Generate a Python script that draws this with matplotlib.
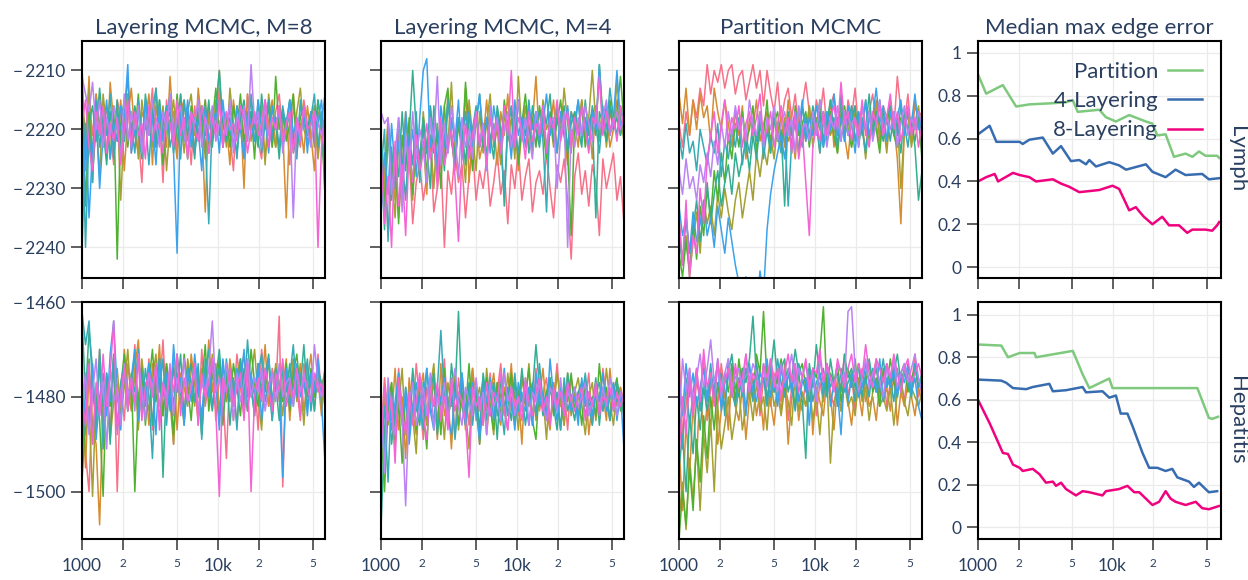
import numpy as np
import matplotlib
matplotlib.use("Agg")
import matplotlib.pyplot as plt

plt.rcParams['font.family'] = ['Lato', 'DejaVu Sans']

# ---------------- data ----------------
ITER_START, ITER_END = 1000, 61000
LYMPH_TOP = -2205   # log-likelihood = LYMPH_TOP - offset
HEP_TOP = -1460     # log-likelihood = HEP_TOP - offset

lymph_m8 = [
 [4,22,10,16,9,14,18,11,15,21,10,13,17,9,19,12,16,24,11,14,8,18,13,24,10,15,12,19,9,16,13,21,11,17,14,10,19,12,15,8,18,13,16,22,11,14,19,9,15,12,17,20,10,14,18,12,9,16,13,21,11,15,18,10,14,17,12,19,13,15],
 [12,18,6,24,9,15,11,20,7,14,17,10,22,13,8,16,19,12,14,9,21,11,16,13,18,6,15,20,12,10,17,13,19,8,14,29,11,16,12,5,18,14,21,10,15,12,25,9,17,13,16,11,20,14,10,18,12,15,30,13,9,17,14,19,11,16,22,12,14,9],
 [10,16,8,19,13,23,9,15,12,18,11,27,14,9,17,12,20,10,15,13,18,8,16,11,22,14,10,17,13,19,12,9,16,14,11,20,13,17,10,15,12,18,8,14,16,11,19,13,10,17,14,12,21,9,15,18,11,13,16,10,19,12,8,15,17,13,11,20,14,26],
 [7,28,12,22,15,9,17,13,20,11,37,14,10,18,12,16,9,19,13,15,11,17,10,21,14,12,18,9,16,13,20,11,15,12,17,10,19,14,8,16,12,13,18,11,15,9,17,14,12,20,10,16,13,11,18,6,15,12,17,14,9,19,13,11,16,12,18,10,15,23],
 [9,20,14,11,17,8,15,21,12,16,10,19,13,6,17,11,15,20,9,14,12,18,10,16,13,11,19,14,9,17,12,15,20,11,13,16,10,18,12,5,14,17,11,15,19,13,10,16,12,14,18,9,15,11,17,13,20,12,14,10,16,19,11,13,15,12,17,10,14,16],
 [11,35,15,24,10,18,13,16,9,20,12,15,17,11,14,19,10,16,13,21,12,8,17,14,11,18,15,13,20,10,16,12,19,14,11,17,31,13,15,10,18,12,16,14,20,11,13,17,9,15,12,19,14,10,16,13,18,11,15,12,17,20,10,14,16,13,9,18,12,26],
 [36,14,30,18,12,25,16,10,20,14,17,11,13,4,19,15,12,18,10,16,13,21,11,17,14,9,19,36,12,16,10,18,13,15,22,11,17,14,12,19,10,16,13,18,11,15,20,12,14,17,10,16,13,19,11,15,12,18,14,10,16,13,17,11,19,12,15,14,10,18],
 [6,9,12,7,15,10,18,13,16,11,14,20,9,17,12,15,11,19,13,16,10,14,18,12,15,9,17,13,11,16,19,12,14,10,18,13,15,11,17,14,12,16,10,19,13,15,11,17,4,14,12,18,10,16,13,15,11,19,14,12,30,13,17,11,15,18,12,14,16,13],
 [14,10,18,22,12,16,11,19,14,17,13,21,15,10,18,12,16,14,20,11,17,13,15,19,12,14,18,10,16,13,20,12,15,17,11,14,19,13,16,10,18,12,15,14,17,11,13,19,15,12,16,14,10,18,13,15,11,17,14,12,19,13,16,11,15,14,12,35,18,13],
]

lymph_m4 = [
 [28,20,33,24,18,30,22,26,19,31,24,21,27,23,17,29,25,20,35,22,26,19,24,21,30,23,18,27,22,25,20,28,24,19,26,22,31,21,25,18,27,23,20,29,24,22,26,19,25,30,21,24,20,27,37,23,19,26,22,28,21,24,33,20,25,22,19,27,23,31],
 [16,24,13,20,27,15,22,12,19,25,14,21,17,26,11,18,23,14,20,9,16,22,13,19,8,24,15,12,20,17,10,18,14,21,12,16,9,19,13,22,15,11,18,14,6,17,12,20,15,10,19,13,16,21,12,14,18,10,15,13,20,11,17,14,12,18,15,10,16,13],
 [18,26,14,22,30,17,24,13,20,27,15,23,12,19,16,25,14,21,11,18,7,20,13,17,24,10,16,22,12,19,14,9,18,15,21,12,17,13,20,6,16,11,14,19,12,17,10,15,13,18,11,16,8,14,19,12,15,10,17,13,5,14,16,11,18,12,15,7,13,17],
 [20,28,15,24,18,31,16,22,13,26,17,20,14,23,12,19,16,25,11,8,17,21,14,19,7,15,22,12,18,14,20,11,16,13,19,10,15,17,12,21,14,9,16,13,18,11,15,20,12,17,14,10,16,19,33,13,15,11,18,14,12,16,4,13,17,10,15,12,6,14],
 [17,32,14,27,19,23,12,21,16,5,15,20,13,18,25,11,17,14,22,10,16,19,13,15,21,12,17,14,9,18,13,16,20,11,15,28,14,12,17,10,16,13,19,11,15,18,12,14,9,17,13,16,11,19,14,12,15,18,10,16,13,30,12,14,17,11,15,13,16,12],
 [22,15,34,18,25,13,20,27,16,21,12,24,15,19,11,17,23,14,18,10,16,21,13,17,12,19,15,11,18,14,20,13,16,12,17,26,14,11,15,19,13,16,10,18,14,12,17,29,13,15,11,16,14,18,12,15,10,17,13,16,11,14,19,12,15,8,13,16,11,14],
 [30,19,26,14,22,17,28,12,20,15,23,13,5,3,18,14,21,11,16,19,13,17,10,20,15,12,18,14,9,16,13,19,11,15,17,12,14,20,10,16,13,18,11,15,12,17,14,9,16,13,19,12,15,11,17,14,10,16,13,18,12,15,4,14,11,16,13,5,15,12],
 [12,14,13,26,19,13,29,16,22,12,20,15,18,24,13,17,6,21,14,19,11,16,23,13,18,15,20,12,17,14,22,11,16,13,19,15,12,18,14,10,17,13,16,20,12,15,11,18,14,13,25,16,12,35,15,18,13,16,11,14,17,12,15,13,10,16,14,12,15,13],
 [19,31,23,35,17,28,21,33,18,24,16,22,19,14,20,17,25,13,21,18,15,23,34,19,14,20,16,12,18,15,21,13,17,14,19,11,16,5,18,13,15,20,12,17,14,16,11,19,13,15,10,17,14,12,18,13,16,11,15,19,13,14,6,16,12,15,13,17,11,15],
]

lymph_part = [
 [14,18,12,16,10,13,8,11,4,9,5,7,4,8,5,4,9,6,5,10,7,4,8,5,11,5,9,12,7,14,10,8,13,9,15,11,7,12,16,10,13,8,15,11,9,14,12,17,10,13,8,15,11,16,12,9,14,18,11,13,10,15,6,12,14,9,16,11,13,12],
 [9,14,8,16,10,15,9,13,11,17,8,12,15,10,14,18,12,16,11,20,13,15,10,17,14,12,19,11,16,13,18,10,15,20,12,14,17,11,16,13,19,12,15,10,18,14,12,16,20,13,11,17,14,19,12,15,10,16,13,18,11,14,20,31,15,12,17,10,14,13],
 [30,38,33,40,34,29,36,27,31,28,33,26,30,25,29,32,27,24,30,26,22,27,19,23,18,21,16,20,14,18,13,17,15,12,19,14,16,11,18,13,15,17,12,16,14,19,11,15,13,18,12,16,14,20,13,15,11,17,14,19,12,16,13,25,15,12,18,14,11,16],
 [36,40,34,39,31,37,28,33,25,30,22,27,19,24,16,20,14,18,12,17,15,11,19,13,16,10,18,14,12,17,15,13,19,11,16,14,12,18,13,15,10,17,14,12,16,19,13,11,15,18,14,12,16,10,17,13,15,19,12,14,11,16,18,13,15,12,14,17,13,20],
 [33,38,30,36,32,27,34,29,24,31,26,22,28,24,21,26,19,23,20,17,22,16,20,14,18,15,19,13,17,15,28,12,16,14,19,11,15,17,13,16,12,18,14,10,15,13,17,12,16,14,11,18,13,15,9,16,12,14,17,13,11,16,14,19,12,15,13,18,27,22],
 [16,20,14,19,17,22,15,18,21,16,19,14,23,17,20,15,18,13,21,16,19,14,17,12,20,15,18,13,16,19,14,28,17,12,15,18,13,16,11,14,19,12,17,15,13,18,9,16,14,11,17,13,15,19,12,16,14,10,15,13,17,12,16,11,14,18,13,15,12,16],
 [28,33,30,36,29,34,31,27,33,30,35,28,32,36,30,34,38,41,43,40,44,42,45,39,43,32,26,22,19,16,20,14,18,12,15,10,17,13,16,11,14,18,12,15,9,16,13,17,11,14,19,12,15,10,16,13,8,14,11,17,12,15,13,10,16,12,14,9,15,13],
 [22,26,20,25,23,27,21,24,19,23,17,21,14,18,12,16,11,15,13,17,10,14,16,12,18,13,15,11,17,14,12,16,13,19,11,15,14,17,12,16,10,14,18,13,15,11,17,12,16,14,13,18,11,15,12,17,14,10,16,13,15,12,18,14,11,16,13,15,12,14],
 [30,38,27,40,33,36,25,31,20,16,12,19,14,10,17,13,15,11,18,14,12,16,13,9,17,15,12,18,14,11,16,13,19,12,20,15,24,33,18,14,17,12,16,13,11,15,7,14,12,17,13,16,10,15,18,12,14,11,16,13,9,15,12,17,14,11,16,13,18,14],
]

hep_m8 = [
 [12,32,40,18,24,10,28,15,22,11,40,17,25,13,20,9,26,16,21,12,27,14,19,8,23,15,30,11,18,24,13,20,16,26,10,22,17,12,25,15,19,33,14,21,11,18,24,13,20,16,27,10,17,22,14,19,3,39,15,21,12,18,25,13,20,16,23,11,19,14],
 [20,35,14,26,30,47,22,16,28,12,19,25,10,18,23,14,8,21,17,26,13,19,9,24,16,20,12,27,15,18,22,11,17,25,14,20,8,19,13,23,16,21,12,18,26,15,11,20,17,24,13,19,9,22,16,14,21,18,12,25,15,19,13,23,17,11,20,16,24,14],
 [16,28,22,41,19,13,25,17,29,21,14,24,18,10,22,15,27,12,19,23,16,11,25,18,13,21,30,15,19,26,12,17,22,14,28,16,20,11,18,24,13,21,17,25,15,12,19,23,16,10,20,27,14,18,22,13,17,24,15,19,12,21,16,26,14,18,20,13,22,17],
 [38,24,12,30,19,25,41,16,22,13,27,18,11,23,15,40,20,14,26,17,10,21,16,24,13,19,28,15,22,11,18,25,14,20,17,9,23,15,19,12,26,16,21,13,18,24,14,20,10,17,22,15,19,12,25,16,18,21,13,23,15,11,19,17,22,14,20,16,18,15],
 [3,20,6,14,27,10,22,16,30,12,19,25,14,21,17,11,24,15,20,13,26,18,12,37,16,22,14,19,11,25,17,13,21,15,28,12,18,23,16,10,20,14,26,17,19,12,22,15,18,24,13,20,16,11,21,17,25,14,19,13,22,16,18,9,20,15,23,14,17,19],
 [2,9,4,18,25,12,31,15,21,11,27,17,13,23,16,19,10,24,14,20,33,15,18,12,26,16,22,11,19,25,14,17,21,13,29,15,10,22,17,14,24,12,19,16,27,13,20,8,18,23,15,11,21,17,25,14,19,13,22,16,9,20,15,18,12,23,17,14,20,16],
 [35,18,26,13,29,20,15,24,11,4,19,27,14,21,16,10,25,18,22,13,17,28,12,20,15,23,9,19,16,26,14,21,11,18,24,15,20,13,17,27,12,19,16,22,14,18,10,23,15,20,13,25,17,12,21,16,19,37,14,22,18,13,20,16,24,15,19,12,21,34],
 [22,15,28,19,12,24,17,31,14,21,18,26,13,20,16,23,11,19,25,15,18,14,22,17,20,13,24,16,19,12,21,18,15,23,17,20,14,4,19,16,22,13,18,25,15,21,17,12,20,16,19,14,23,18,15,21,13,20,17,16,22,14,19,15,18,21,9,17,20,16],
 [20,26,13,30,17,24,11,22,15,4,28,19,14,23,16,21,12,25,18,15,20,13,27,17,22,14,19,11,24,16,21,18,13,26,15,20,17,12,23,41,16,19,14,22,18,15,25,13,40,20,16,21,14,18,23,15,19,12,22,17,20,14,24,16,18,21,15,19,17,22],
]

hep_m4 = [
 [28,16,24,19,31,14,22,27,17,25,13,21,29,18,23,15,26,20,12,24,18,28,16,22,19,26,14,21,30,17,23,15,25,19,13,22,27,17,20,24,15,21,18,26,14,23,19,16,25,21,13,22,18,27,16,20,24,17,21,15,26,19,23,14,20,25,17,22,18,21],
 [22,30,18,25,14,27,20,33,16,23,28,19,15,26,21,17,29,13,24,20,31,18,22,16,27,19,14,25,21,17,28,20,15,23,26,18,21,13,24,19,30,16,22,18,25,20,14,23,27,17,21,19,26,15,22,18,24,20,16,28,21,17,23,19,25,14,22,20,18,24],
 [35,20,26,17,30,22,14,28,19,24,32,16,21,26,18,13,25,20,29,17,22,15,27,19,23,31,16,21,18,26,14,22,28,17,20,24,15,23,19,27,16,21,13,25,18,22,20,29,17,23,15,21,26,18,24,19,16,22,28,20,17,25,19,23,14,21,26,18,22,20],
 [26,40,22,17,29,21,34,18,25,15,27,20,23,31,16,22,19,28,14,24,21,17,26,19,23,13,25,18,30,20,16,22,27,17,24,19,21,15,26,18,23,20,14,25,29,17,22,19,16,24,20,27,18,21,15,23,19,26,17,22,20,24,13,21,18,25,19,16,23,20],
 [48,27,18,30,23,16,25,20,28,14,22,26,17,24,19,15,28,21,18,25,13,20,2,22,26,17,23,19,27,15,21,24,18,29,16,22,20,25,17,23,14,21,26,19,9,18,24,20,16,22,27,18,23,15,21,25,19,17,24,20,22,16,26,18,21,19,23,17,20,24],
 [30,22,38,19,26,17,24,21,28,16,23,19,27,14,22,25,18,6,20,24,17,29,21,15,23,19,26,18,22,16,25,20,17,24,21,28,18,22,15,23,19,26,20,17,24,13,21,25,18,22,19,27,16,23,20,18,24,21,15,22,26,19,17,23,20,25,18,21,19,22],
 [24,33,19,27,21,15,26,18,30,22,17,25,20,14,23,27,18,21,16,24,28,19,22,15,26,20,17,23,29,18,21,16,25,19,22,14,24,20,27,17,21,23,18,26,15,22,19,24,12,20,25,18,21,17,23,20,26,16,22,19,24,18,21,15,23,20,17,25,19,31],
 [20,36,16,23,28,19,25,43,21,17,26,22,18,24,15,27,20,23,17,25,19,14,22,26,18,21,24,16,23,19,28,17,22,20,25,15,21,18,24,20,23,16,26,19,21,17,22,25,18,20,23,16,24,19,21,18,22,20,17,24,21,19,23,18,22,16,20,24,19,21],
 [30,18,25,20,34,16,23,28,19,26,21,15,24,29,18,22,17,25,20,27,16,23,19,21,25,37,18,22,20,26,17,24,19,21,15,23,27,18,22,20,25,17,21,24,19,16,23,20,26,18,22,19,24,17,21,23,20,18,25,19,22,17,24,20,21,18,23,19,22,20],
]

hep_part = [
 [10,28,22,14,24,17,20,12,25,18,16,22,13,19,26,15,21,17,14,23,18,20,12,24,16,19,22,15,17,21,13,25,18,15,20,23,16,19,14,24,17,21,13,19,22,16,18,11,20,15,23,17,14,21,18,16,12,20,15,22,17,13,19,16,21,14,18,11,20,17],
 [30,44,25,37,21,33,18,28,22,26,17,30,23,19,27,15,22,25,18,29,20,16,24,19,27,14,21,26,18,23,16,30,20,17,25,19,22,14,28,18,21,24,16,20,27,17,23,15,21,26,18,19,24,16,22,20,25,17,21,18,23,15,26,19,22,17,20,24,18,21],
 [46,38,48,33,42,30,44,28,36,25,40,22,31,26,20,29,24,18,27,22,19,25,17,23,20,27,16,22,19,24,18,21,26,15,23,19,22,17,25,20,28,18,16,34,21,19,23,17,22,20,24,16,21,18,25,19,17,22,20,23,18,26,19,17,21,24,18,20,22,19],
 [50,40,47,35,44,29,38,24,33,20,27,17,22,15,19,13,21,12,18,14,16,20,11,15,2,17,13,19,16,12,20,14,17,22,15,13,18,21,14,16,11,1,19,15,17,13,21,16,14,18,12,20,15,17,13,19,16,22,14,18,12,17,20,15,13,19,16,14,18,15],
 [35,28,40,24,32,20,27,18,23,16,21,13,19,22,15,11,18,20,14,17,12,3,16,19,13,21,15,8,17,14,12,19,16,10,15,21,33,13,18,9,16,14,20,12,17,15,19,11,16,14,18,13,20,15,12,17,14,19,16,13,18,15,11,17,14,16,20,13,18,15],
 [22,31,16,26,19,14,23,17,20,13,21,18,15,24,12,19,22,16,20,14,17,21,13,18,16,22,14,19,12,17,20,15,18,23,13,16,19,14,21,17,15,20,13,18,16,22,14,19,17,15,21,13,18,16,20,14,19,17,12,18,16,21,14,19,15,17,20,13,18,16],
 [17,24,13,20,15,22,18,14,21,16,19,12,23,17,15,20,14,18,16,24,13,19,21,15,17,12,20,16,22,14,18,15,19,13,21,17,16,26,14,20,15,18,13,22,17,19,28,15,21,16,14,20,18,13,17,15,19,12,21,16,18,14,20,15,17,13,19,16,22,25],
 [25,12,19,14,21,16,11,18,14,8,17,13,20,15,12,18,16,14,19,11,17,13,15,20,14,18,12,16,19,13,17,15,11,18,14,16,13,19,15,21,12,17,14,16,18,13,15,17,2,1,14,19,16,12,18,15,13,17,20,14,16,12,18,15,13,17,14,11,16,19],
 [33,20,28,16,24,14,21,10,18,15,22,12,19,17,14,20,13,18,16,11,19,15,17,21,13,16,12,18,14,20,15,11,17,13,19,16,12,18,14,15,10,17,13,16,19,12,15,18,14,11,17,13,16,9,15,18,12,14,17,13,16,11,15,19,14,12,17,15,13,16],
]

# median max edge error
err_lymph = {
 'Partition': ([1000,1150,1530,1920,2410,3500,4510,5060,5510,7970,8930,10600,13300,17700,19800,21500,24800,28600,34900,39200,43900,49100,59900,62000],
               [0.90,0.81,0.85,0.75,0.76,0.765,0.77,0.78,0.725,0.735,0.70,0.68,0.71,0.68,0.67,0.615,0.62,0.515,0.53,0.515,0.54,0.52,0.52,0.51]),
 '4-Layering': ([1000,1220,1370,2040,2150,2410,3030,3600,4140,4910,5660,6350,6720,7530,9450,11200,12600,17700,19800,24800,29400,34900,46400,52000,61700],
                [0.62,0.66,0.585,0.585,0.575,0.595,0.605,0.53,0.565,0.495,0.50,0.48,0.50,0.47,0.49,0.475,0.455,0.48,0.445,0.42,0.455,0.43,0.435,0.41,0.415]),
 '8-Layering': ([1000,1150,1330,1410,1820,2040,2410,2700,3600,4140,4770,5660,7970,10000,11200,13300,14900,15800,17100,19800,23400,26300,31200,35900,39200,49100,55000,59900,62000],
                [0.40,0.42,0.435,0.40,0.44,0.43,0.42,0.40,0.41,0.39,0.375,0.35,0.36,0.38,0.365,0.265,0.28,0.26,0.235,0.20,0.235,0.195,0.195,0.16,0.175,0.175,0.17,0.195,0.21]),
}
err_hep = {
 'Partition': ([1000,1490,1670,2040,2630,2700,5060,5350,5990,6720,9450,10000,42700,52000,55000,60800],
               [0.86,0.855,0.80,0.82,0.82,0.80,0.83,0.795,0.72,0.655,0.70,0.655,0.655,0.515,0.51,0.52]),
 '4-Layering': ([1000,1490,1620,1820,2280,2550,3390,3600,4510,5990,6350,8420,9450,10600,11500,12900,14100,16700,18700,21500,24800,27800,30300,37000,40300,43900,49100,52000,59900],
                [0.695,0.69,0.68,0.655,0.65,0.66,0.675,0.64,0.645,0.66,0.635,0.64,0.61,0.62,0.535,0.535,0.475,0.35,0.28,0.28,0.265,0.275,0.235,0.215,0.19,0.21,0.18,0.165,0.17]),
 '8-Layering': ([1000,1220,1530,1670,1820,2040,2150,2550,2860,3200,3600,3800,4140,4510,5350,5990,6720,8420,8930,11200,12900,14500,15800,19800,22200,24800,27000,29400,34900,41500,46400,52000,61700],
                [0.60,0.49,0.35,0.345,0.295,0.28,0.265,0.275,0.25,0.21,0.215,0.195,0.21,0.18,0.15,0.17,0.165,0.15,0.17,0.18,0.195,0.165,0.165,0.105,0.12,0.17,0.135,0.12,0.105,0.12,0.09,0.085,0.10]),
}

col_titles = ["Layering MCMC, M=8", "Layering MCMC, M=4", "Partition MCMC", "Median max edge error"]
row_labels = ["Lymph", "Hepatitis"]
chain_colors = ['#f77189', '#d58c32', '#a4a031', '#50b131', '#34ae91', '#37abb5', '#3ba3ec', '#bb83f4', '#f564d4']
err_colors = {'Partition': '#7fc97f', '4-Layering': '#386cb0', '8-Layering': '#f0027f'}

TXT = '#2a3f5f'
GRID = '#ebebeb'

# ---------------- figure ----------------
fig = plt.figure(figsize=(12.48, 5.8), dpi=100)
W, H = 1248, 580
lefts = [82, 381, 679, 978]
tops = [41, 302]
aw, ah = 243, 237

traces = [[lymph_m8, lymph_m4, lymph_part], [hep_m8, hep_m4, hep_part]]
tops_val = [LYMPH_TOP, HEP_TOP]
ylims = [(-2245.2, -2205), (-1510, -1460)]
yticks = [[-2240, -2230, -2220, -2210], [-1500, -1480, -1460]]
errs = [err_lymph, err_hep]
err_ylims = [(-0.051, 1.056), (-0.055, 1.06)]

def style_x(ax, show_labels, xmax):
    ax.set_xscale('log')
    ax.set_xlim(1000, xmax)
    ax.set_xticks([1000, 10000])
    ax.set_xticks([2000, 5000, 20000, 50000], minor=True)
    if show_labels:
        ax.set_xticklabels(['1000', '10k'])
        ax.set_xticklabels(['2', '5', '2', '5'], minor=True)
    else:
        ax.set_xticklabels([])
        ax.set_xticklabels([], minor=True)
    ax.tick_params(axis='x', which='major', length=8, width=1.2, color='#444444',
                   labelsize=12.5, labelcolor=TXT, pad=6)
    ax.tick_params(axis='x', which='minor', length=8, width=1.2, color='#444444',
                   labelsize=8.5, labelcolor=TXT, pad=6)
    ax.grid(True, which='both', axis='x', color=GRID, lw=0.9)
    ax.grid(True, which='major', axis='y', color=GRID, lw=0.9)
    for s in ax.spines.values():
        s.set_linewidth(1.5)
        s.set_color('black')
    ax.set_axisbelow(True)

for r in range(2):
    for c in range(4):
        ax = fig.add_axes([lefts[c] / W, 1 - (tops[r] + ah) / H, aw / W, ah / H])
        if c < 3:
            for k, chain in enumerate(traces[r][c]):
                y = tops_val[r] - np.array(chain, dtype=float)
                x = np.geomspace(ITER_START, ITER_END, len(y))
                ax.plot(x, y, color=chain_colors[k], lw=1.1)
            style_x(ax, r == 1, 61000)
            ax.set_ylim(*ylims[r])
            ax.set_yticks(yticks[r])
            if c == 0:
                ax.set_yticklabels([f"\u2212\u2009{abs(v)}" for v in yticks[r]])
            else:
                ax.set_yticklabels([])
        else:
            for name in ['Partition', '4-Layering', '8-Layering']:
                xs, ys = errs[r][name]
                ax.plot(xs, ys, color=err_colors[name], lw=1.8, label=name)
            style_x(ax, r == 1, 64000)
            ax.set_ylim(*err_ylims[r])
            ax.set_yticks([0, 0.2, 0.4, 0.6, 0.8, 1.0])
            ax.set_yticklabels(['0', '0.2', '0.4', '0.6', '0.8', '1'])
            if r == 0:
                leg = ax.legend(loc='upper right', frameon=False, markerfirst=False,
                                fontsize=16, handlelength=1.55, handletextpad=0.45,
                                labelspacing=0.42, borderaxespad=0.0,
                                bbox_to_anchor=(0.96, 0.95))
                for t in leg.get_texts():
                    t.set_color(TXT)
        ax.tick_params(axis='y', length=8, width=1.2, color='#444444',
                       labelsize=12.5, labelcolor=TXT, pad=4)
        if r == 0:
            ax.set_title(col_titles[c], fontsize=16, color=TXT, pad=5)

for r in range(2):
    yc = 1 - (tops[r] + ah / 2) / H
    fig.text(1237 / W, yc, row_labels[r], rotation=-90, ha='center', va='center',
             fontsize=16, color=TXT)

fig.savefig('out.png', dpi=100)
